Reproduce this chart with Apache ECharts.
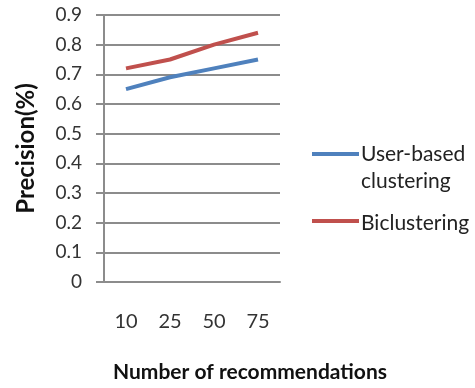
<!DOCTYPE html>
<html>
<head>
<meta charset="utf-8">
<script src="https://cdn.jsdelivr.net/npm/echarts@6/dist/echarts.min.js"></script>
<style>
  html, body { margin: 0; padding: 0; background: #fff; }
  #chart { width: 475px; height: 388px; }
</style>
</head>
<body>
<div id="chart"></div>
<script>
// Number of recommendations on the x axis
const categories = ['10', '25', '50', '75'];
// Precision of each method
const userBased = [0.65, 0.69, 0.72, 0.75];
const biclustering = [0.72, 0.75, 0.80, 0.84];
const seriesNames = ['User-based clustering', 'Biclustering'];

const BLUE = '#4F81BD';
const RED = '#C0504D';
const AXIS_GREY = '#8c8c8c';
const FONT = 'Lato, "Open Sans", sans-serif';

const chart = echarts.init(document.getElementById('chart'), null, { renderer: 'canvas' });

chart.setOption({
  animation: false,
  backgroundColor: '#fff',
  grid: { left: 104, right: 195, top: 15, bottom: 103, containLabel: false },
  xAxis: {
    type: 'category',
    data: categories,
    boundaryGap: true,
    axisLine: { show: true, lineStyle: { color: AXIS_GREY, width: 2 } },
    axisTick: { show: false },
    axisLabel: { margin: 30, color: '#333', fontSize: 20, fontFamily: FONT },
    name: 'Number of recommendations',
    nameLocation: 'middle',
    nameGap: 80,
    nameTextStyle: {
      color: '#111', fontSize: 21, fontWeight: 'bold', fontFamily: FONT,
      padding: [0, 0, 0, 116]
    }
  },
  yAxis: {
    type: 'value',
    min: 0,
    max: 0.9,
    interval: 0.1,
    axisLine: { show: true, lineStyle: { color: AXIS_GREY, width: 2 } },
    axisTick: { show: true, inside: false, length: 8, lineStyle: { color: AXIS_GREY, width: 2 } },
    axisLabel: {
      margin: 22, color: '#333', fontSize: 19, fontFamily: FONT,
      formatter: v => (Math.round(v * 10) / 10).toString()
    },
    splitLine: { show: true, lineStyle: { color: AXIS_GREY, width: 2 } },
    name: 'Precision(%)',
    nameLocation: 'middle',
    nameGap: 66,
    nameTextStyle: { color: '#111', fontSize: 24, fontWeight: 'bold', fontFamily: FONT }
  },
  series: [
    {
      name: seriesNames[0], type: 'line', data: userBased,
      showSymbol: false, symbol: 'none',
      lineStyle: { color: BLUE, width: 4 }, itemStyle: { color: BLUE }
    },
    {
      name: seriesNames[1], type: 'line', data: biclustering,
      showSymbol: false, symbol: 'none',
      lineStyle: { color: RED, width: 4 }, itemStyle: { color: RED }
    }
  ],
  // Legend keys: line swatch beside the first text line of each entry
  graphic: [
    { type: 'line', shape: { x1: 312, y1: 154, x2: 359, y2: 154 }, style: { stroke: BLUE, lineWidth: 4 } },
    { type: 'text', x: 361, y: 154, style: { text: 'User-based', fill: '#222', font: '21px ' + FONT, verticalAlign: 'middle' } },
    { type: 'text', x: 361, y: 181, style: { text: 'clustering', fill: '#222', font: '21px ' + FONT, verticalAlign: 'middle' } },
    { type: 'line', shape: { x1: 312, y1: 221, x2: 359, y2: 221 }, style: { stroke: RED, lineWidth: 4 } },
    { type: 'text', x: 361, y: 223, style: { text: 'Biclustering', fill: '#222', font: '21px ' + FONT, verticalAlign: 'middle' } }
  ]
});
</script>
</body>
</html>
